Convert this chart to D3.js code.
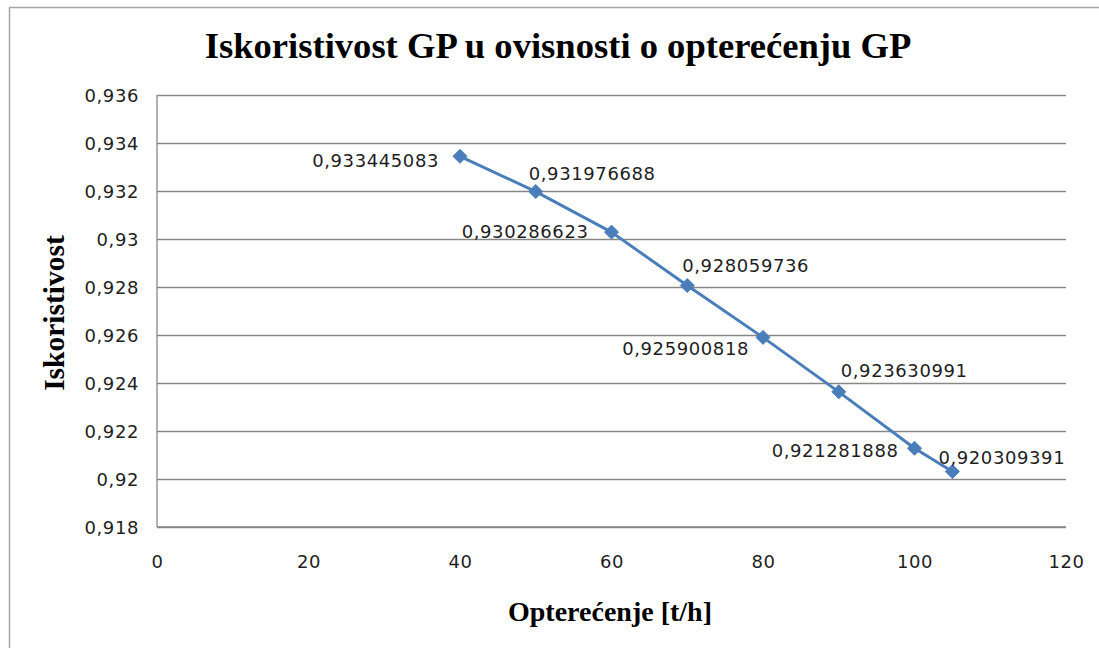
<!DOCTYPE html>
<html>
<head>
<meta charset="utf-8">
<script src="https://cdn.jsdelivr.net/npm/d3@7"></script>
<style>
  body { margin: 0; background: #fff; }
  svg { display: block; }
</style>
</head>
<body>
<svg id="chart" width="1099" height="648"></svg>
<script>
// load values (t/h) and efficiency
const loads = [40, 50, 60, 70, 80, 90, 100, 105]
const efficiency = [0.933445083, 0.931976688, 0.930286623, 0.928059736,
  0.925900818, 0.923630991, 0.921281888, 0.920309391]
const xTicks = [0, 20, 40, 60, 80, 100, 120]
const yTicks = [0.918, 0.92, 0.922, 0.924, 0.926, 0.928, 0.93, 0.932, 0.934, 0.936]

// where each data label sits relative to its marker
const labelPlace = [
  {anchor: 'end', dx: -21, dy: 4},
  {anchor: 'start', dx: -7, dy: -18},
  {anchor: 'end', dx: -23, dy: -1},
  {anchor: 'start', dx: -5, dy: -20},
  {anchor: 'end', dx: -14, dy: 11},
  {anchor: 'start', dx: 2, dy: -21},
  {anchor: 'end', dx: -16, dy: 2},
  {anchor: 'start', dx: -14, dy: -14}
]

const blue = '#4a7ebb'
const grid = '#878787'
const ink = '#1e1e1e'
const tickFont = '"DejaVu Sans", sans-serif'
const tickSize = '18px'
const tickSpacing = '0.6px'
const serif = '"Liberation Serif", "Times New Roman", serif'

const svg = d3.select('#chart')

// outer chart frame
svg.append('rect')
  .attr('x', 9.5)
  .attr('y', 7.5)
  .attr('width', 1200)
  .attr('height', 800)
  .attr('fill', '#fff')
  .attr('stroke', '#a6a6a6')
  .attr('stroke-width', 1.5)

const plot = {left: 157, right: 1066, top: 95, bottom: 527}

const x = d3.scaleLinear().domain([0, 120]).range([plot.left, plot.right])
const y = d3.scaleLinear().domain([0.918, 0.936]).range([plot.bottom, plot.top])

const fmt = v => String(+v.toFixed(3)).replace('.', ',')

// horizontal gridlines + y labels
const yAxis = svg.append('g')
  .attr('transform', 'translate(' + plot.left + ',0)')
  .call(d3.axisLeft(y).tickValues(yTicks).tickFormat(fmt)
    .tickSize(-(plot.right - plot.left)).tickPadding(18))
yAxis.select('.domain').remove()
yAxis.selectAll('.tick line')
  .attr('stroke', grid)
  .attr('stroke-width', 1.3)
yAxis.selectAll('.tick text')
  .attr('fill', ink)
  .attr('dy', '0.36em')
  .style('font-family', tickFont)
  .style('font-size', tickSize)
  .style('letter-spacing', tickSpacing)

// x axis labels (no tick marks)
const xAxis = svg.append('g')
  .attr('transform', 'translate(0,' + plot.bottom + ')')
  .call(d3.axisBottom(x).tickValues(xTicks).tickFormat(d => d).tickSize(0).tickPadding(28))
xAxis.select('.domain').remove()
xAxis.selectAll('.tick text')
  .attr('fill', ink)
  .style('font-family', tickFont)
  .style('font-size', tickSize)
  .style('letter-spacing', tickSpacing)

// left and bottom axis lines
svg.append('line')
  .attr('x1', plot.left).attr('x2', plot.left)
  .attr('y1', plot.top).attr('y2', plot.bottom)
  .attr('stroke', grid).attr('stroke-width', 1.3)
svg.append('line')
  .attr('x1', plot.left).attr('x2', plot.right)
  .attr('y1', plot.bottom).attr('y2', plot.bottom)
  .attr('stroke', grid).attr('stroke-width', 1.3)

const pts = loads.map((l, i) => ({x: l, y: efficiency[i], place: labelPlace[i]}))

// series line
svg.append('path')
  .datum(pts)
  .attr('fill', 'none')
  .attr('stroke', blue)
  .attr('stroke-width', 3)
  .attr('stroke-linejoin', 'round')
  .attr('d', d3.line().x(d => x(d.x)).y(d => y(d.y)))

// diamond markers
svg.selectAll('.marker')
  .data(pts)
  .enter().append('path')
  .attr('class', 'marker')
  .attr('transform', d => 'translate(' + x(d.x) + ',' + y(d.y) + ')')
  .attr('d', 'M0,-7L7,0L0,7L-7,0Z')
  .attr('fill', blue)
  .attr('stroke', blue)
  .attr('stroke-width', 1)

// data labels
svg.selectAll('.dlabel')
  .data(pts)
  .enter().append('text')
  .attr('class', 'dlabel')
  .attr('x', d => x(d.x) + d.place.dx)
  .attr('y', d => y(d.y) + d.place.dy)
  .attr('dy', '0.36em')
  .attr('text-anchor', d => d.place.anchor)
  .attr('fill', ink)
  .style('font-family', tickFont)
  .style('font-size', tickSize)
  .style('letter-spacing', tickSpacing)
  .text(d => String(d.y).replace('.', ','))

// titles
svg.append('text')
  .text('Iskoristivost GP u ovisnosti o opterećenju GP')
  .attr('x', 558)
  .attr('y', 58)
  .attr('text-anchor', 'middle')
  .attr('fill', '#000')
  .style('font-family', serif)
  .style('font-weight', 'bold')
  .style('font-size', '36.6px')

svg.append('text')
  .text('Opterećenje [t/h]')
  .attr('x', 610)
  .attr('y', 621)
  .attr('text-anchor', 'middle')
  .attr('fill', '#000')
  .style('font-family', serif)
  .style('font-weight', 'bold')
  .style('font-size', '28px')

svg.append('text')
  .text('Iskoristivost')
  .attr('transform', 'translate(64,313) rotate(-90)')
  .attr('text-anchor', 'middle')
  .attr('fill', '#000')
  .style('font-family', serif)
  .style('font-weight', 'bold')
  .style('font-size', '29.5px')
</script>
</body>
</html>
